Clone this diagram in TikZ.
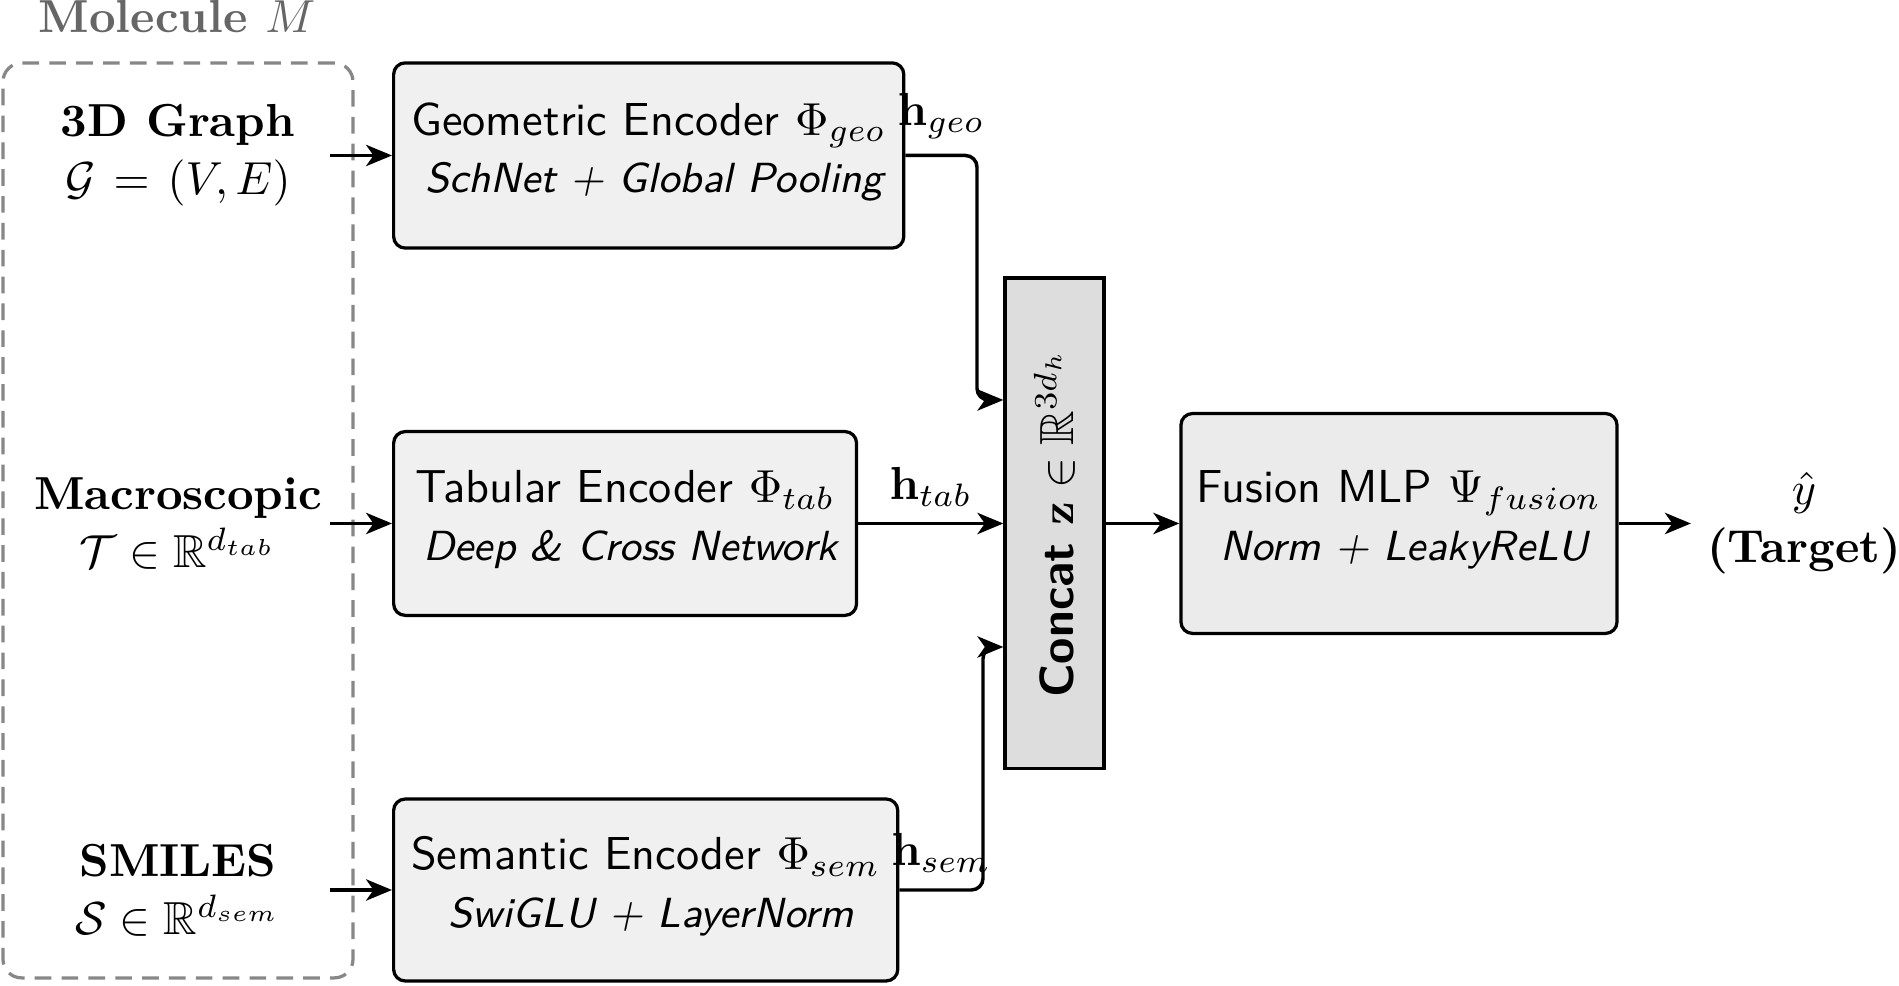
\documentclass[tikz,border=0pt]{standalone}
\usepackage{amsmath,amssymb}
\usepackage{graphicx}
\usetikzlibrary{arrows.meta,calc}
% second (italic) line of an encoder box, with a strut that sets its depth
\newcommand{\subline}[1]{{\fontsize{9.1pt}{12.5pt}\selectfont\itshape\hspace*{2.4pt}#1\rule[-3.4pt]{0pt}{1pt}}}
\begin{document}
\begin{tikzpicture}[x=0.216pt,y=-0.216pt,
  font=\fontsize{10pt}{12.5pt}\selectfont,
  box/.style={draw,line width=0.7pt,rounded corners=2.5pt,fill=gray!12,align=center,inner sep=0pt,
    font=\sffamily\fontsize{10pt}{12.5pt}\selectfont},
  inp/.style={align=center,inner sep=0pt,minimum width=65.2pt},
  arr/.style={-{Stealth[length=5.6pt,width=4.6pt,inset=1.6pt]},line width=0.75pt},
  lbl/.style={above},
  molbox/.style={draw=black!47,line width=0.7pt,dash pattern=on 3.6pt off 2.2pt,rounded corners=4pt,inner sep=0pt}]
\useasboundingbox (0,0) rectangle (1899,986);

% input modalities of the molecule
\node[molbox,minimum width=75.6pt,minimum height=197.6pt] (mol) at (178,520.5) {};
\node[anchor=base,text=black!60,font=\fontsize{10pt}{12pt}\selectfont\bfseries] (moltitle) at (177,33) {Molecule $M$};
\node[inp] (g3d) at (178,155.5) {\textbf{3D Graph}\\ $\mathcal{G}\mkern2mu=\mkern2mu(V,E)$};
\node[inp] (macro) at (178,523.5) {\textbf{Macroscopic}\\ $\mathcal{T}\in\mathbb{R}^{d_{tab}}$};
\node[inp] (smiles) at (178,890) {\textbf{SMILES}\\ $\mathcal{S}\in\mathbb{R}^{d_{sem}}$};

% encoders
\node[box,anchor=west,minimum width=110.2pt,minimum height=40pt] (geo) at (392,155.5)
  {Geometric Encoder $\Phi_{geo}$\\ \subline{SchNet + Global Pooling}};
\node[box,anchor=west,minimum width=100pt,minimum height=39.7pt] (tab) at (392,523.5)
  {Tabular Encoder $\Phi_{tab}$\\ \subline{Deep \& Cross Network}};
\node[box,anchor=west,minimum width=108.9pt,minimum height=39.3pt] (sem) at (392,890)
  {Semantic Encoder $\Phi_{sem}$\\ \subline{SwiGLU + LayerNorm}};

% fusion
\node[draw,line width=0.7pt,fill=gray!27,inner sep=0pt,minimum width=21.4pt,minimum height=106pt] (concat) at (1054.5,523.5)
  {\rotatebox{90}{\fontsize{10.35pt}{12pt}\selectfont\sffamily\bfseries Concat $\mathbf{z}\in\mathbb{R}^{3d_h}$}};
\node[box,fill=gray!16,minimum width=94.2pt,minimum height=47.5pt] (fusion) at (1399,523.5)
  {Fusion MLP $\Psi_{fusion}$\\ \subline{Norm + LeakyReLU}};
\node[align=center] (target) at (1804,523.5) {$\hat{y}$\\ \textbf{(Target)}};

\coordinate (cin1) at ($(concat.north west)!0.25!(concat.south west)$);
\coordinate (cin3) at ($(concat.north west)!0.75!(concat.south west)$);
\coordinate (xg) at (977,0);
\coordinate (xs) at (983,0);

% connectors
\draw[arr] (g3d.east) -- (geo.west);
\draw[arr] (macro.east) -- (tab.west);
\draw[arr] (smiles.east) -- (sem.west);
\draw[arr,rounded corners=2.5pt] (geo.east) -- node[lbl]{$\mathbf{h}_{geo}$} (geo.east -| xg) |- (cin1);
\draw[arr] (tab.east) -- node[lbl]{$\mathbf{h}_{tab}$} (tab.east -| concat.west);
\draw[arr,rounded corners=2.5pt] (sem.east) -- node[lbl]{$\mathbf{h}_{sem}$} (sem.east -| xs) |- (cin3);
\draw[arr] (concat.east) -- (fusion.west);
\draw[arr] (fusion.east) -- (target.west);
\end{tikzpicture}
\end{document}
